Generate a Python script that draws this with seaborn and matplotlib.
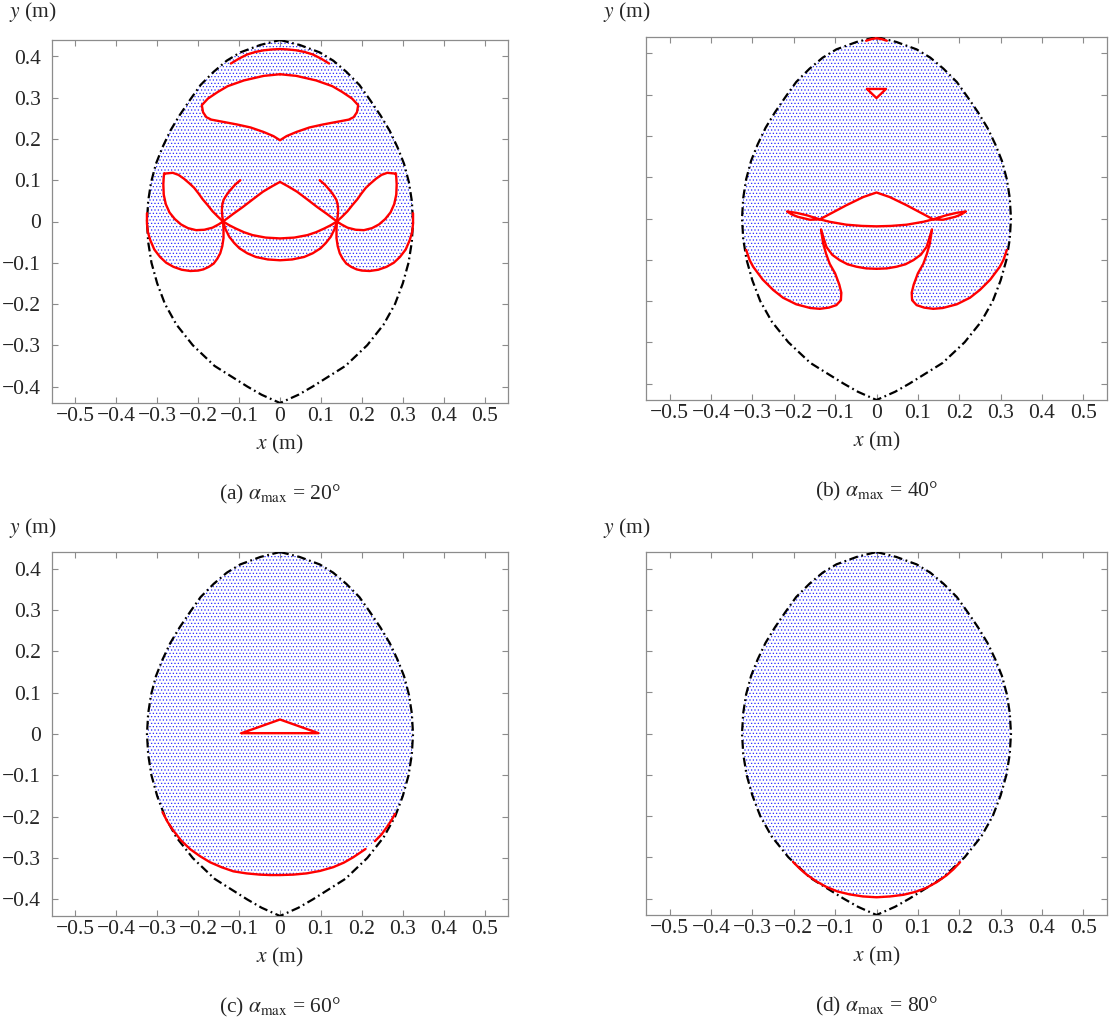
import matplotlib
matplotlib.use("Agg")
import matplotlib.pyplot as plt
import seaborn as sns
from matplotlib.patches import Polygon

# ---- data (metres) ----
# outer workspace boundary, right half from top tip to bottom tip
BND_RX = [0.0, 0.048, 0.097, 0.13, 0.162, 0.194, 0.219, 0.245, 0.268, 0.287, 0.303, 0.315,
          0.322, 0.325, 0.322, 0.314, 0.30, 0.281, 0.253, 0.213, 0.16, 0.12, 0.08, 0.045, 0.0]
BND_RY = [0.44, 0.428, 0.41, 0.39, 0.363, 0.331, 0.296, 0.258, 0.22, 0.18, 0.14, 0.095,
          0.05, 0.0, -0.05, -0.10, -0.15, -0.20, -0.25, -0.30, -0.35, -0.375, -0.40, -0.42, -0.44]

# (a) alpha_max = 20
A_ARC_X = [-0.12, -0.10, -0.08, -0.06, -0.04, -0.02, 0.0, 0.02, 0.04, 0.06, 0.08, 0.10, 0.12]
A_ARC_Y = [0.383, 0.395, 0.405, 0.411, 0.415, 0.417, 0.418, 0.417, 0.415, 0.411, 0.405, 0.395, 0.383]
# crescent hole, right half: top centre -> corner -> bottom cusp
A_CRES_X = [0.0, 0.04, 0.088, 0.128, 0.152, 0.176, 0.191, 0.188, 0.18, 0.168, 0.136, 0.104,
            0.072, 0.04, 0.016, 0.0]
A_CRES_Y = [0.357, 0.353, 0.342, 0.328, 0.314, 0.298, 0.282, 0.265, 0.253, 0.247, 0.241, 0.235,
            0.228, 0.217, 0.207, 0.197]
# left teardrop loop (closed)
A_LOOP_X = [-0.283, -0.262, -0.248, -0.235, -0.222, -0.21, -0.199, -0.189, -0.177, -0.165,
            -0.152, -0.139, -0.15, -0.165, -0.185, -0.205, -0.225, -0.242, -0.257, -0.27,
            -0.279, -0.284, -0.285, -0.284, -0.283]
A_LOOP_Y = [0.116, 0.118, 0.113, 0.104, 0.093, 0.082, 0.068, 0.054, 0.04, 0.025,
            0.012, 0.0, -0.007, -0.015, -0.02, -0.021, -0.016, -0.007, 0.006, 0.022,
            0.042, 0.065, 0.09, 0.108, 0.116]
# left petal: boundary -> crossing, then hook: crossing -> free end
A_PETAL_X = [-0.325, -0.325, -0.323, -0.317, -0.307, -0.293, -0.278, -0.26, -0.24, -0.219,
             -0.2, -0.187, -0.174, -0.162, -0.153, -0.146, -0.141, -0.138, -0.138, -0.139]
A_PETAL_Y = [0.02, -0.005, -0.025, -0.045, -0.068, -0.086, -0.1, -0.11, -0.117, -0.12,
             -0.119, -0.116, -0.11, -0.102, -0.09, -0.077, -0.06, -0.04, -0.02, 0.0]
A_HOOK_X = [-0.139, -0.141, -0.142, -0.141, -0.138, -0.132, -0.125, -0.117, -0.109, -0.097]
A_HOOK_Y = [0.0, 0.014, 0.027, 0.04, 0.052, 0.062, 0.072, 0.081, 0.09, 0.1]
# left halves, crossing -> centre
A_TENT_X = [-0.139, -0.115, -0.091, -0.066, -0.042, -0.02, 0.0]
A_TENT_Y = [0.0, 0.018, 0.035, 0.054, 0.072, 0.085, 0.096]
A_MID_X = [-0.139, -0.124, -0.108, -0.088, -0.067, -0.035, 0.0]
A_MID_Y = [0.0, -0.009, -0.017, -0.026, -0.033, -0.039, -0.041]
A_LOW_X = [-0.139, -0.133, -0.124, -0.112, -0.099, -0.08, -0.059, -0.03, 0.0]
A_LOW_Y = [0.0, -0.019, -0.037, -0.052, -0.065, -0.077, -0.086, -0.092, -0.094]

# (b) alpha_max = 40
B_TIP_X = [-0.025, -0.012, 0.0, 0.012, 0.025]
B_TIP_Y = [0.431, 0.435, 0.437, 0.435, 0.431]
B_TRI_X = [-0.023, 0.023, 0.0, -0.023]
B_TRI_Y = [0.314, 0.314, 0.292, 0.314]
B_TENT_X = [-0.137, -0.105, -0.073, -0.032, 0.0]
B_TENT_Y = [-0.002, 0.015, 0.032, 0.052, 0.063]
B_ARC_X = [-0.137, -0.113, -0.073, -0.035, 0.0]
B_ARC_Y = [-0.002, -0.008, -0.015, -0.018, -0.019]
B_WING_X = [-0.137, -0.169, -0.195, -0.216, -0.205, -0.19, -0.161, -0.137]
B_WING_Y = [-0.002, 0.008, 0.014, 0.017, 0.01, 0.004, -0.003, -0.002]
B_HOOK_X = [-0.315, -0.307, -0.298, -0.275, -0.25, -0.226, -0.194, -0.16, -0.137, -0.115, -0.097,
            -0.086, -0.085, -0.09, -0.1, -0.113, -0.122, -0.129, -0.134]
B_HOOK_Y = [-0.076, -0.1, -0.117, -0.148, -0.173, -0.192, -0.208, -0.217, -0.219, -0.216, -0.21,
            -0.198, -0.18, -0.16, -0.133, -0.11, -0.085, -0.06, -0.027]
B_U_X = [-0.134, -0.127, -0.121, -0.107, -0.089, -0.07, -0.048, -0.025, 0.0]
B_U_Y = [-0.027, -0.05, -0.069, -0.088, -0.101, -0.111, -0.117, -0.121, -0.122]

# (c) alpha_max = 60
C_TRI_X = [-0.094, 0.0, 0.094, -0.094]
C_TRI_Y = [0.002, 0.035, 0.002, 0.002]
C_ARC1_X = [-0.287, -0.275, -0.261, -0.242, -0.22, -0.196, -0.171, -0.143, -0.114, -0.082,
            -0.049, -0.024, 0.0, 0.032, 0.065, 0.098, 0.13, 0.156, 0.179, 0.209]
C_ARC1_Y = [-0.189, -0.212, -0.233, -0.257, -0.278, -0.295, -0.31, -0.322, -0.332, -0.337,
            -0.34, -0.341, -0.341, -0.34, -0.337, -0.331, -0.322, -0.311, -0.298, -0.278]
C_ARC2_X = [0.232, 0.248, 0.261, 0.272, 0.281]
C_ARC2_Y = [-0.259, -0.243, -0.225, -0.209, -0.193]

# (d) alpha_max = 80
D_ARC_X = [-0.202, -0.186, -0.169, -0.146, -0.121, -0.094, -0.065, -0.033, 0.0, 0.033, 0.065,
           0.094, 0.121, 0.146, 0.169, 0.186, 0.202]
D_ARC_Y = [-0.311, -0.327, -0.342, -0.358, -0.372, -0.383, -0.39, -0.395, -0.397, -0.395, -0.391,
           -0.384, -0.374, -0.36, -0.344, -0.329, -0.312]

X_TICKS = [-0.5, -0.4, -0.3, -0.2, -0.1, 0.0, 0.1, 0.2, 0.3, 0.4, 0.5]
X_LABELS = ["\u22120.5", "\u22120.4", "\u22120.3", "\u22120.2", "\u22120.1", "0",
            "0.1", "0.2", "0.3", "0.4", "0.5"]
Y_TICKS = [-0.4, -0.3, -0.2, -0.1, 0.0, 0.1, 0.2, 0.3, 0.4]
Y_LABELS = ["\u22120.4", "\u22120.3", "\u22120.2", "\u22120.1", "0", "0.1", "0.2", "0.3", "0.4"]
CAPTIONS = [r"(a) $\alpha_{\mathrm{max}}$ = 20°", r"(b) $\alpha_{\mathrm{max}}$ = 40°",
            r"(c) $\alpha_{\mathrm{max}}$ = 60°", r"(d) $\alpha_{\mathrm{max}}$ = 80°"]

sns.set_theme(style="ticks")
plt.rcParams["font.family"] = ["Liberation Serif", "DejaVu Serif"]
plt.rcParams["mathtext.fontset"] = "stix"
plt.rcParams["hatch.linewidth"] = 0.5


def neg(v):
    return [-a for a in v]


def rev(v):
    return list(v)[::-1]


def cap(thr):
    # boundary points above thr: left side bottom->top, then right side top->bottom
    pts = [(x, y) for x, y in zip(BND_RX, BND_RY) if y > thr]
    left = [(-x, y) for x, y in reversed(pts)]
    return left + pts[1:]


def red(ax, xs, ys):
    sns.lineplot(x=xs, y=ys, sort=False, estimator=None, color="red", lw=1.7, ax=ax, zorder=4)


def fill(ax, pts, holes):
    ax.add_patch(Polygon(pts, closed=True, facecolor="none", edgecolor="#2a2aff",
                         lw=0, hatch=".....", zorder=1))
    for hx, hy in holes:
        ax.add_patch(Polygon(list(zip(hx, hy)), closed=True, facecolor="white",
                             edgecolor="none", zorder=2))


fig = plt.figure(figsize=(11.12, 10.29), dpi=100)
boxes = [[52, 40, 456, 363], [646, 37, 461, 363], [52, 552, 456, 364], [646, 552, 461, 363]]
ylab_y = [12, 12, 528, 528]
W, H = 1112.0, 1029.0
axes = []
for i, (l, t, w, h) in enumerate(boxes):
    ax = fig.add_axes([l / W, 1 - (t + h) / H, w / W, h / H])
    axes.append(ax)
    ax.set_xlim(-0.557, 0.557)
    ax.set_ylim(-0.44, 0.44)
    ax.set_xticks(X_TICKS)
    ax.set_xticklabels(X_LABELS)
    ax.set_yticks(Y_TICKS)
    ax.set_yticklabels(Y_LABELS if i in (0, 2) else [])
    ax.tick_params(direction="in", top=True, right=True, length=4, width=0.8,
                   color="#8c8c8c", labelsize=15.5, pad=3)
    ax.tick_params(axis="y", pad=8)
    for s in ax.spines.values():
        s.set_color("#8c8c8c")
        s.set_linewidth(0.9)
    # outer boundary (dash-dot)
    bx = BND_RX + neg(rev(BND_RX))
    by = BND_RY + rev(BND_RY)
    sns.lineplot(x=bx, y=by, sort=False, estimator=None, color="black", lw=1.6,
                 linestyle=(0, (4, 1.6, 0.8, 1.6)), ax=ax, zorder=3)
    cx = l + w / 2
    fig.text(cx / W, 1 - (t + h + 41) / H, r"$x$ (m)", ha="center", va="center", fontsize=15.5)
    fig.text(cx / W, 1 - (t + h + 91) / H, CAPTIONS[i], ha="center", va="center", fontsize=15.5)
    fig.text((l - 19) / W, 1 - ylab_y[i] / H, r"$y$ (m)", ha="center", va="center", fontsize=15.5)

# ---- (a)
ax = axes[0]
poly = cap(0.02)
poly += list(zip(neg(A_PETAL_X), A_PETAL_Y))
poly += list(zip(neg(A_LOW_X), A_LOW_Y)) + list(zip(rev(A_LOW_X), rev(A_LOW_Y)))
poly += list(zip(rev(A_PETAL_X), rev(A_PETAL_Y)))
holes = [
    (A_CRES_X + neg(rev(A_CRES_X)), A_CRES_Y + rev(A_CRES_Y)),
    (A_LOOP_X, A_LOOP_Y), (neg(A_LOOP_X), A_LOOP_Y),
    (A_TENT_X + neg(rev(A_TENT_X)) + neg(A_MID_X) + rev(A_MID_X),
     A_TENT_Y + rev(A_TENT_Y) + A_MID_Y + rev(A_MID_Y)),
]
fill(ax, poly, holes)
red(ax, A_ARC_X, A_ARC_Y)
red(ax, A_CRES_X + neg(rev(A_CRES_X)), A_CRES_Y + rev(A_CRES_Y))
red(ax, A_LOOP_X, A_LOOP_Y)
red(ax, neg(A_LOOP_X), A_LOOP_Y)
red(ax, A_PETAL_X + A_HOOK_X, A_PETAL_Y + A_HOOK_Y)
red(ax, neg(A_PETAL_X + A_HOOK_X), A_PETAL_Y + A_HOOK_Y)
red(ax, A_TENT_X + neg(rev(A_TENT_X)), A_TENT_Y + rev(A_TENT_Y))
red(ax, A_MID_X + neg(rev(A_MID_X)), A_MID_Y + rev(A_MID_Y))
red(ax, A_LOW_X + neg(rev(A_LOW_X)), A_LOW_Y + rev(A_LOW_Y))

# ---- (b)
ax = axes[1]
poly = cap(-0.076)
poly += list(zip(neg(B_HOOK_X), B_HOOK_Y))
poly += list(zip(neg(B_U_X), B_U_Y)) + list(zip(rev(B_U_X), rev(B_U_Y)))
poly += list(zip(rev(B_HOOK_X), rev(B_HOOK_Y)))
holes = [
    (B_TRI_X, B_TRI_Y),
    (B_TENT_X + neg(rev(B_TENT_X)) + neg(B_ARC_X) + rev(B_ARC_X),
     B_TENT_Y + rev(B_TENT_Y) + B_ARC_Y + rev(B_ARC_Y)),
    (B_WING_X, B_WING_Y), (neg(B_WING_X), B_WING_Y),
]
fill(ax, poly, holes)
red(ax, B_TIP_X, B_TIP_Y)
red(ax, B_TRI_X, B_TRI_Y)
red(ax, B_TENT_X + neg(rev(B_TENT_X)), B_TENT_Y + rev(B_TENT_Y))
red(ax, B_ARC_X + neg(rev(B_ARC_X)), B_ARC_Y + rev(B_ARC_Y))
red(ax, B_WING_X, B_WING_Y)
red(ax, neg(B_WING_X), B_WING_Y)
red(ax, B_HOOK_X, B_HOOK_Y)
red(ax, neg(B_HOOK_X), B_HOOK_Y)
red(ax, B_U_X + neg(rev(B_U_X)), B_U_Y + rev(B_U_Y))

# ---- (c)
ax = axes[2]
poly = cap(-0.19)
poly += list(zip(rev(C_ARC2_X), rev(C_ARC2_Y)))
poly += list(zip(rev(C_ARC1_X), rev(C_ARC1_Y)))
fill(ax, poly, [(C_TRI_X, C_TRI_Y)])
red(ax, C_TRI_X, C_TRI_Y)
red(ax, C_ARC1_X, C_ARC1_Y)
red(ax, C_ARC2_X, C_ARC2_Y)

# ---- (d)
ax = axes[3]
poly = cap(-0.31) + list(zip(rev(D_ARC_X), rev(D_ARC_Y)))
fill(ax, poly, [])
red(ax, D_ARC_X, D_ARC_Y)

fig.savefig("out.png", dpi=100)
